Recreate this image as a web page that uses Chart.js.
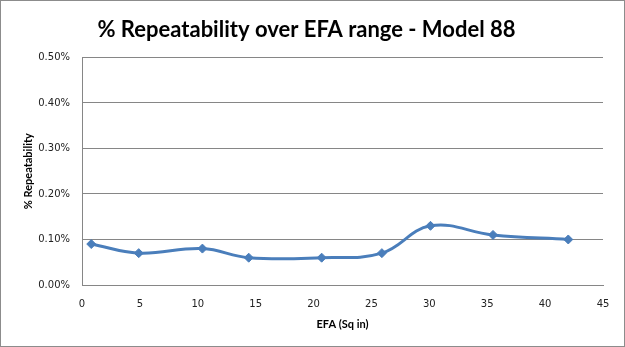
<!DOCTYPE html>
<html>
<head>
<meta charset="utf-8">
<script src="https://cdn.jsdelivr.net/npm/chart.js@4/dist/chart.umd.min.js"></script>
<style>
  html, body { margin: 0; padding: 0; background: #fff; }
  #wrap { position: relative; width: 625px; height: 347px; }
  #frame { position: absolute; left: 0; top: 0; width: 625px; height: 347px; box-sizing: border-box; border: 1px solid #8c8c8c; pointer-events: none; }
  canvas { position: absolute; left: 0; top: 0; }
</style>
</head>
<body>
<div id="wrap">
  <canvas id="c" width="625" height="347"></canvas>
  <div id="frame"></div>
</div>
<script>
// EFA (sq in) and repeatability (as fraction) for each measured point
const efa = [0.8, 4.9, 10.4, 14.4, 20.7, 25.9, 30.1, 35.5, 42.0];
const repeatability = [0.0009, 0.0007, 0.0008, 0.0006, 0.0006, 0.0007, 0.0013, 0.0011, 0.0010];
const xTicks = [0, 5, 10, 15, 20, 25, 30, 35, 40, 45];
const yTicks = [0, 0.001, 0.002, 0.003, 0.004, 0.005];

const chartTitle = '% Repeatability over EFA range - Model 88';
const xTitle = 'EFA (Sq in)';
const yTitle = '% Repeatability';

const points = efa.map((x, i) => ({ x: x, y: repeatability[i] }));
const blue = '#4a7ebb';
const grid = '#868686';

new Chart(document.getElementById('c'), {
  type: 'scatter',
  data: {
    datasets: [{
      data: points,
      showLine: true,
      borderColor: blue,
      backgroundColor: blue,
      borderWidth: 3,
      tension: 0.4,
      pointStyle: 'rectRot',
      pointRadius: 4.5,
      pointBorderWidth: 1,
      pointBackgroundColor: blue,
      pointBorderColor: blue
    }]
  },
  options: {
    responsive: false,
    animation: false,
    layout: { padding: { left: 10, right: 22, top: 17, bottom: 16 } },
    plugins: {
      legend: { display: false },
      tooltip: { enabled: false },
      title: {
        display: true,
        text: chartTitle,
        color: '#000',
        font: { family: 'Lato', size: 22, weight: 'bold' },
        padding: { top: 0, bottom: 14 }
      }
    },
    scales: {
      x: {
        type: 'linear',
        min: 0,
        max: 45,
        afterBuildTicks: s => { s.ticks = xTicks.map(v => ({ value: v })); },
        afterFit: s => { s.height = 46; },
        grid: { display: false, drawTicks: false },
        border: { display: true, color: grid, width: 1 },
        ticks: {
          color: '#222',
          font: { family: 'DejaVu Sans', size: 10 },
          padding: 13,
          maxRotation: 0
        },
        title: {
          display: true,
          text: xTitle,
          color: '#000',
          font: { family: 'Lato', size: 11, weight: 'bold' },
          padding: { top: 4, bottom: 0 }
        }
      },
      y: {
        min: 0,
        max: 0.005,
        afterBuildTicks: s => { s.ticks = yTicks.map(v => ({ value: v })); },
        afterFit: s => { s.width = 72; },
        grid: { color: grid, lineWidth: 1, drawTicks: false },
        border: { display: true, color: grid, width: 1 },
        ticks: {
          color: '#222',
          font: { family: 'DejaVu Sans', size: 10 },
          padding: 12,
          callback: v => (v * 100).toFixed(2) + '%'
        },
        title: {
          display: true,
          text: yTitle,
          color: '#000',
          font: { family: 'Lato', size: 11, weight: 'bold' },
          padding: { top: 12, bottom: 0 }
        }
      }
    }
  }
});
</script>
</body>
</html>
